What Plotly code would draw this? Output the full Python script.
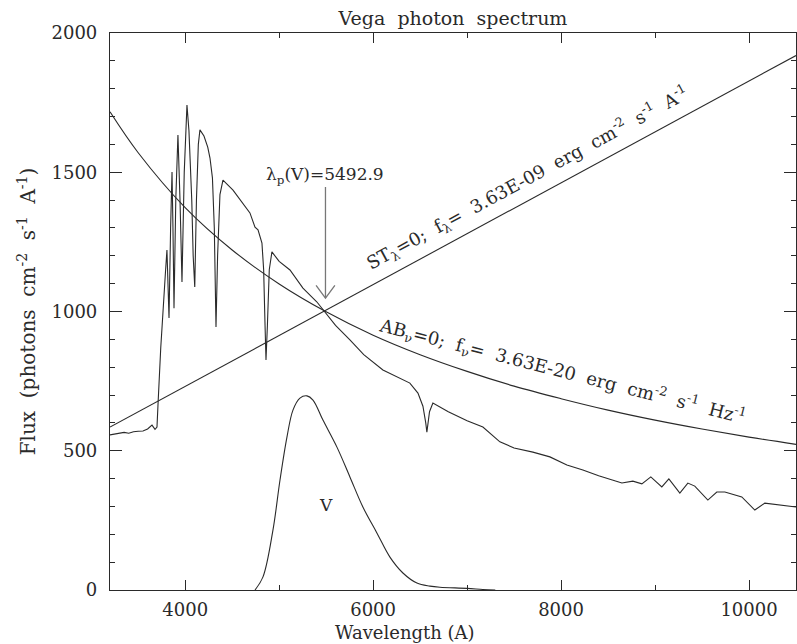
import plotly.graph_objects as go

# Vega spectrum, photons cm^-2 s^-1 A^-1
wave = [3200, 3300, 3350, 3400, 3450, 3500, 3551, 3600, 3647, 3679, 3700, 3710,
        3722, 3740, 3755, 3770, 3790, 3806, 3815, 3828, 3845, 3860, 3870, 3881,
        3900, 3923, 3945, 3966, 3990, 4019, 4040, 4070, 4085, 4102, 4120, 4140,
        4157, 4200, 4240, 4264, 4290, 4310, 4328, 4345, 4370, 4402, 4509, 4615,
        4689, 4743, 4775, 4817, 4835, 4850, 4860, 4875, 4895, 4923, 5000, 5115,
        5253, 5400, 5490, 5600, 5753, 5900, 6104, 6250, 6391, 6477, 6530, 6560,
        6572, 6600, 6636, 6800, 7000, 7168, 7349, 7500, 7700, 7881, 8062, 8232,
        8400, 8647, 8764, 8860, 8955, 9072, 9147, 9264, 9349, 9423, 9562, 9657,
        9743, 9923, 10062, 10168, 10500]
flux = [557, 562, 566, 563, 568, 570, 571, 578, 592, 577, 585, 660,
        760, 870, 950, 1050, 1140, 1221, 1100, 977, 1300, 1501, 1300, 1012,
        1400, 1634, 1400, 1106, 1500, 1741, 1650, 1400, 1200, 1088, 1400, 1600,
        1652, 1630, 1590, 1551, 1480, 1300, 944, 1200, 1420, 1472, 1436, 1390,
        1354, 1303, 1293, 1246, 1150, 950, 826, 950, 1150, 1214, 1180, 1149,
        1084, 1035, 998, 950, 898, 845, 790, 765, 743, 707, 660, 600,
        567, 640, 671, 640, 608, 585, 532, 510, 495, 478, 449, 431,
        410, 384, 391, 381, 406, 370, 399, 348, 384, 373, 323, 352,
        352, 334, 287, 312, 298]

# V band response (scaled)
v_wave = [4743, 4828, 4934, 5009, 5083, 5147, 5221, 5296, 5360, 5466, 5615,
          5753, 5891, 6040, 6179, 6317, 6466, 6604, 6711, 6998, 7168, 7300]
v_resp = [0, 47, 215, 395, 549, 646, 689, 697, 682, 610, 513,
          406, 298, 205, 118, 61, 25, 14, 10, 6, 2, 0]

# AB_nu = 0 reference
ab_wave = [3200, 3500, 4000, 4500, 5000, 5500, 6000, 6500, 7000, 7500, 8000,
           8500, 9000, 9500, 10000, 10500]
ab_flux = [1717, 1570, 1373, 1221, 1099, 999, 915, 845, 785, 732, 687,
           646, 610, 578, 549, 523]

# ST_lambda = 0 reference
st_wave = [3200, 10500]
st_flux = [585, 1919]

lam_p = 5492.9
arrow_top, arrow_tip = 1447, 1048

FONT = "DejaVu Serif"
INK = "#2a2a2a"

fig = go.Figure()
for xs, ys, shape in [(wave, flux, "linear"), (v_wave, v_resp, "spline"),
                      (ab_wave, ab_flux, "spline"), (st_wave, st_flux, "linear")]:
    fig.add_trace(go.Scatter(x=xs, y=ys, mode="lines",
                             line=dict(color=INK, width=1.1, shape=shape),
                             hoverinfo="skip", showlegend=False))

# arrow pointing at the pivot wavelength
fig.add_shape(type="line", x0=lam_p, x1=lam_p, y0=arrow_top, y1=arrow_tip,
              line=dict(color="#777", width=1.3))
fig.add_shape(type="path",
              path=f"M {lam_p - 100},{arrow_tip + 46} L {lam_p},{arrow_tip} L {lam_p + 100},{arrow_tip + 46}",
              line=dict(color="#777", width=1.3))

notes = [
    dict(x=lam_p, y=1490, text="λ<sub>p</sub>(V)=5492.9", textangle=0, size=17),
    dict(x=5498, y=305, text="V", textangle=0, size=17),
    dict(x=7640, y=1480,
         text="ST<sub>λ</sub>=0;  f<sub>λ</sub>=  3.63E-09  erg  cm<sup>-2</sup>  s<sup>-1</sup>  A<sup>-1</sup>",
         textangle=-28.4, size=18),
    dict(x=8015, y=788,
         text="AB<sub>ν</sub>=0;  f<sub>ν</sub>=  3.63E-20  erg  cm<sup>-2</sup>  s<sup>-1</sup>  Hz<sup>-1</sup>",
         textangle=14.3, size=18),
]
for n in notes:
    fig.add_annotation(x=n["x"], y=n["y"], text=n["text"], textangle=n["textangle"],
                       showarrow=False, font=dict(family=FONT, size=n["size"], color=INK))

fig.add_annotation(xref="paper", yref="paper", x=0.43, y=-0.054, yanchor="top",
                   text="Wavelength (A)", showarrow=False,
                   font=dict(family=FONT, size=18, color=INK))

axis_common = dict(showline=True, linecolor=INK, linewidth=1.2, mirror="ticks",
                   ticks="inside", tickcolor=INK, showgrid=False, zeroline=False,
                   tickformat="d", tickfont=dict(family=FONT, size=18, color=INK))

fig.update_layout(
    width=797, height=644,
    margin=dict(l=110, r=1, t=33, b=54),
    paper_bgcolor="white", plot_bgcolor="white",
    title=dict(text="Vega  photon  spectrum", xref="paper", x=0.5, xanchor="center",
               yref="container", y=0.972, yanchor="middle",
               font=dict(family=FONT, size=19, color=INK)),
    xaxis=dict(range=[3200, 10500], tick0=0, dtick=2000, ticklen=10, ticklabelstandoff=3,
               minor=dict(ticks="inside", dtick=1000, tick0=0, ticklen=5, tickcolor=INK),
               **axis_common),
    yaxis=dict(range=[0, 2000], tick0=0, dtick=500, ticklen=12, ticklabelstandoff=8,
               minor=dict(ticks="inside", dtick=100, tick0=0, ticklen=5, tickcolor=INK),
               title=dict(text="Flux  (photons  cm<sup>-2</sup>  s<sup>-1</sup>  A<sup>-1</sup>)",
                          font=dict(family=FONT, size=20, color=INK), standoff=10),
               **axis_common),
)

# drop the default page margin so the figure fills the window exactly
fig.write_html("out.html", config={"displayModeBar": False},
               post_script="document.body.style.margin='0';")
